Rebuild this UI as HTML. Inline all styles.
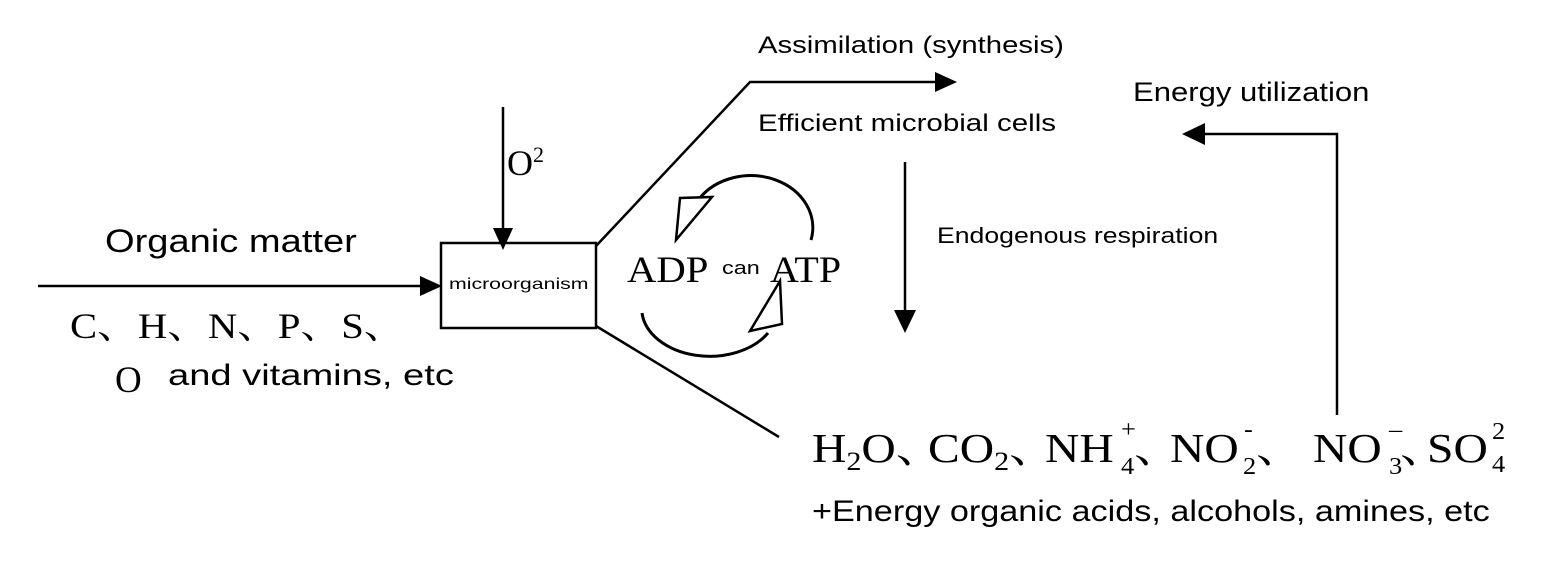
<!DOCTYPE html>
<html><head><meta charset="utf-8"><style>
body{margin:0;width:1545px;height:570px;background:#fff;overflow:hidden;position:relative}
.s{position:absolute;font-family:"Liberation Sans","Noto Sans CJK SC",sans-serif;white-space:nowrap;color:#000;transform-origin:0 0;line-height:1}
.r{position:absolute;font-family:"Liberation Serif","Noto Serif CJK SC",serif;white-space:nowrap;color:#000;transform-origin:0 0;line-height:1}
.f{font-size:41px;transform:scaleX(1.16)}
.sm{font-size:24px;transform:scaleX(1.1)}
</style></head><body>
<svg width="1545" height="570" style="position:absolute;left:0;top:0" fill="none" stroke="#000" stroke-width="2.5">
<line x1="38" y1="286" x2="424" y2="286"/>
<polygon points="442,286 420,276 420,296" fill="#000" stroke="none"/>
<rect x="441" y="243" width="155" height="85"/>
<line x1="503" y1="107" x2="503" y2="232"/>
<polygon points="503,250 493,228 513,228" fill="#000" stroke="none"/>
<polyline points="596,246 750,82 938,82"/>
<polygon points="957,82 935,72 935,92" fill="#000" stroke="none"/>
<line x1="596" y1="326" x2="779" y2="437"/>
<line x1="905" y1="162" x2="905" y2="312"/>
<polygon points="905,333 894,310 916,310" fill="#000" stroke="none"/>
<polyline points="1337,415 1337,134 1203,134"/>
<polygon points="1182,134 1205,123 1205,145" fill="#000" stroke="none"/>
<path d="M699,199 A62,52 0 0 1 811,240" stroke-width="3"/>
<polygon points="676,240 680,198 712,197" fill="#fff" stroke-width="2.5"/>
<path d="M642,313 A68,48 0 0 0 768,333" stroke-width="3"/>
<polygon points="780,281 782,324 750,331" fill="#fff" stroke-width="2.5"/>
</svg>
<div class="s" style="left:758px;top:34px;font-size:24px;transform:scaleX(1.22)">Assimilation (synthesis)</div>
<div class="s" style="left:758px;top:112px;font-size:24px;transform:scaleX(1.23)">Efficient microbial cells</div>
<div class="s" style="left:937px;top:225px;font-size:22px;transform:scaleX(1.21)">Endogenous respiration</div>
<div class="s" style="left:1133px;top:79px;font-size:27px;transform:scaleX(1.15)">Energy utilization</div>
<div class="s" style="left:105px;top:225px;font-size:32px;transform:scaleX(1.19)">Organic matter</div>
<div class="s" style="left:449px;top:277px;font-size:16px;transform:scaleX(1.33)">microorganism</div>
<div class="r" style="left:507px;top:144px;font-size:36px">O<sup style="font-size:22px">2</sup></div>
<div class="r" style="left:70px;top:308px;font-size:36px;transform:scaleX(1.13)">C、H、N、P、S、</div>
<div class="r" style="left:115px;top:362px;font-size:37px">O</div>
<div class="s" style="left:168px;top:361px;font-size:30px;transform:scaleX(1.27)">and vitamins, etc</div>
<div class="r" style="left:627px;top:252px;font-size:37px;transform:scaleX(1.1)">ADP</div>
<div class="s" style="left:722px;top:259px;font-size:18px;transform:scaleX(1.3)">can</div>
<div class="r" style="left:770px;top:252px;font-size:37px;transform:scaleX(1.08)">ATP</div>

<div class="r f" style="left:812px;top:428px">H<span style="font-size:26px;position:relative;top:8px">2</span>O、</div>
<div class="r f" style="left:928px;top:428px">CO<span style="font-size:26px;position:relative;top:8px">2</span>、</div>
<div class="r f" style="left:1045px;top:428px">NH</div>
<div class="r sm" style="left:1121px;top:418px">+</div>
<div class="r sm" style="left:1121px;top:455px">4</div>
<div class="r f" style="left:1134px;top:428px">、</div>
<div class="r f" style="left:1170px;top:428px">NO</div>
<div class="r sm" style="left:1244px;top:418px">-</div>
<div class="r sm" style="left:1243px;top:455px">2</div>
<div class="r f" style="left:1256px;top:428px">、</div>
<div class="r f" style="left:1313px;top:428px">NO</div>
<div class="r sm" style="left:1389px;top:418px">–</div>
<div class="r sm" style="left:1389px;top:455px">3</div>
<div class="r f" style="left:1400px;top:428px">、</div>
<div class="r f" style="left:1427px;top:428px">SO</div>
<div class="r sm" style="left:1492px;top:420px">2</div>
<div class="r sm" style="left:1492px;top:453px">4</div>

<div class="s" style="left:812px;top:497px;font-size:30px;transform:scaleX(1.14)">+Energy organic acids, alcohols, amines, etc</div>
</body></html>
